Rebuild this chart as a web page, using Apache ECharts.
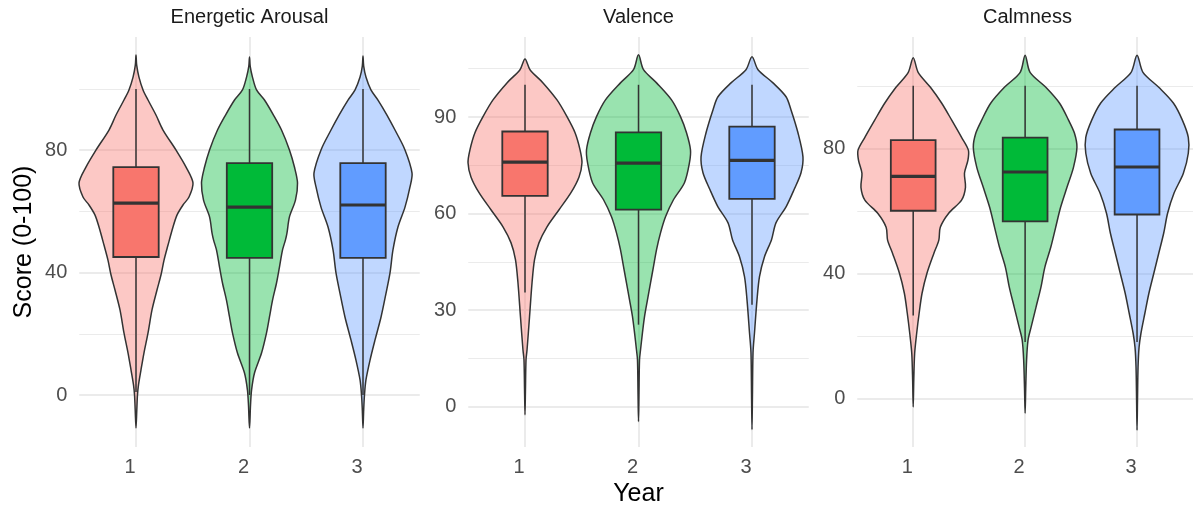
<!DOCTYPE html>
<html><head><meta charset="utf-8">
<script src="https://cdn.jsdelivr.net/npm/echarts@6/dist/echarts.min.js"></script>
<style>html,body{margin:0;padding:0;background:#fff}#c{width:1193px;height:511px}</style>
</head><body><div id="c"></div>
<script>
const years = ['1', '2', '3'];
const facets = ['Energetic Arousal', 'Valence', 'Calmness'];
const yTitle = 'Score (0-100)';
const xTitle = 'Year';
const boxFills = ['#F8766D', '#00BA38', '#619CFF'];
const violinFills = ['rgba(248,118,109,0.4)', 'rgba(0,186,56,0.4)', 'rgba(97,156,255,0.4)'];
const yRanges = [[-17, 117], [-12.5, 114.85], [-15.6, 115.6]];
const majorTicks = [[0, 40, 80], [0, 30, 60, 90], [0, 40, 80]];
const minorTicks = [[20, 60, 100], [15, 45, 75, 105], [20, 60, 100]];

// violin profiles: [score, half width as % of category spacing]
const arousal1 = [[111.1,0],[107.8,0.6],[103.9,2.6],[99.7,6.2],[96.4,10.6],[91.5,17.6],[86.6,23.8],[80.1,35.2],[74.5,44.1],[69.3,50.2],[64.7,46.7],[62.1,41.4],[58.8,36.1],[54.9,32.6],[49.0,28.2],[44.1,24.7],[39.2,22.0],[34.3,18.5],[27.8,14.1],[20.3,10.6],[13.7,7.0],[8.2,4.4],[3.3,2.2],[0,1.3],[-4.9,0.7],[-10.8,0]];
const arousal2 = [[110.5,0],[107.5,0.6],[103.9,2.6],[99.7,6.2],[96.4,13.2],[91.5,21.1],[86.6,28.2],[80.1,35.2],[74.5,39.6],[69.3,42.3],[63.7,40.5],[58.2,35.2],[52.9,33.0],[50.7,31.7],[47.4,29.1],[41.8,26.4],[36.6,23.8],[31.0,20.3],[25.5,17.6],[20.3,15.0],[13.7,10.6],[7.2,4.4],[1.6,1.8],[-3.3,0.9],[-10.8,0]];
const arousal3 = [[110.8,0],[107.5,0.6],[103.9,2.6],[99.7,7.0],[96.4,13.2],[91.5,21.1],[86.6,28.2],[80.1,37.0],[72.5,43.2],[68.0,41.4],[61.4,37.0],[54.9,30.8],[47.4,26.4],[39.9,23.8],[33.3,20.3],[25.5,15.9],[18.0,10.6],[11.4,6.2],[4.9,2.6],[0,1.3],[-4.9,0.6],[-10.8,0]];
const valence1 = [[108.0,0],[104.7,4.4],[100.6,15.9],[95.3,28.2],[90.1,37.0],[85.1,44.1],[79.8,48.5],[75.8,50.2],[71.4,47.6],[66.5,40.5],[61.2,30.0],[55.9,19.4],[50.9,12.3],[45.7,8.4],[38.5,6.2],[28.0,4.0],[17.7,1.8],[14.6,0.9],[5.3,0.4],[-2.5,0]];
const valence2 = [[109.3,0],[104.7,4.4],[100.6,15.9],[95.3,29.1],[90.1,37.0],[85.1,42.3],[79.8,45.8],[75.8,44.9],[69.6,40.5],[64.3,30.8],[59.0,23.8],[54.0,19.4],[48.8,15.9],[43.5,13.2],[38.5,10.6],[33.2,7.9],[28.0,5.3],[23.0,3.5],[17.7,1.8],[14.6,0.9],[3.7,0.4],[-4.6,0]];
const valence3 = [[108.7,0],[104.7,5.3],[100.6,18.5],[96.3,30.0],[92.2,34.4],[85.1,40.5],[77.6,44.9],[72.7,43.2],[67.4,37.0],[62.1,30.0],[57.1,21.1],[51.9,17.2],[46.6,11.0],[40.4,6.6],[33.2,4.4],[23.0,2.2],[16.8,0.9],[3.7,0.4],[-7.1,0]];
const calm1 = [[109.0,0],[104.3,4.4],[99.5,15.4],[94.4,25.5],[89.0,34.4],[83.5,43.2],[79.4,49.3],[76.2,48.9],[72.0,45.8],[67.5,46.7],[63.4,43.2],[59.2,31.7],[54.7,24.2],[50.6,22.9],[46.4,18.5],[40.0,12.3],[33.6,7.9],[27.2,5.3],[20.8,3.1],[14.4,1.3],[5.8,0.5],[-2.8,0]];
const calm2 = [[109.8,0],[104.3,4.4],[99.5,18.5],[94.4,30.8],[89.0,38.8],[84.8,44.1],[80.3,46.3],[73.9,43.2],[67.5,37.4],[61.1,31.7],[54.7,27.3],[48.3,22.9],[41.9,17.6],[35.5,14.1],[29.1,9.7],[22.7,5.3],[18.6,2.6],[12.2,1.3],[2.6,0.5],[-4.8,0]];
const calm3 = [[109.8,0],[104.3,5.3],[99.5,19.4],[94.4,32.6],[89.0,40.5],[83.5,45.8],[78.4,45.8],[72.0,41.4],[65.6,33.0],[59.2,27.3],[52.8,23.8],[46.4,19.4],[40.0,15.0],[33.6,10.6],[27.2,7.0],[20.8,3.5],[16.3,1.8],[9.9,0.9],[-0.6,0.4],[-10.2,0]];

// boxes: [lower whisker, Q1, median, Q3, upper whisker]
const arousalBox = [[1, 45.1, 62.7, 74.5, 100], [0, 44.8, 61.4, 75.8, 100], [0, 44.8, 62.1, 75.8, 100]];
const valenceBox = [[35.5, 65.5, 76.0, 85.5, 100], [25.5, 61.2, 75.7, 85.2, 100], [31.7, 64.6, 76.5, 87.0, 100]];
const calmBox = [[26.5, 60.0, 71.0, 82.6, 100], [18.0, 56.6, 72.4, 83.4, 100], [18.0, 58.8, 74.0, 86.0, 100]];

const violins = [[arousal1, arousal2, arousal3], [valence1, valence2, valence3], [calm1, calm2, calm3]];
const boxes = [arousalBox, valenceBox, calmBox];

const FONT = '"Liberation Sans", Arial, sans-serif';
const gridLeft = [79.25, 468.25, 857.25];
const gridW = 340.5, gridTop = 37, gridH = 410;
const BOX_HALF = 0.2;
const LINE = '#333333';
const GRIDC = '#EBEBEB';

function violinRender(profiles) {
  return function (params, api) {
    const i = params.dataIndex;
    const x = api.value(0);
    const unit = api.size([1, 0])[0];
    const prof = profiles[i];
    const right = [], left = [];
    prof.forEach(function (d) {
      const p = api.coord([x, d[0]]);
      const dx = d[1] / 100 * unit;
      right.push([p[0] + dx, p[1]]);
      if (d[1] > 0) left.push([p[0] - dx, p[1]]);
    });
    const pts = right.concat(left.reverse());
    return {
      type: 'polygon',
      shape: { points: pts, smooth: 0.3 },
      style: { fill: violinFills[i], stroke: LINE, lineWidth: 1.5 }
    };
  };
}

function boxRender(stats) {
  return function (params, api) {
    const i = params.dataIndex;
    const x = api.value(0);
    const s = stats[i];
    const hw = BOX_HALF * api.size([1, 0])[0];
    const pLo = api.coord([x, s[0]]), pQ1 = api.coord([x, s[1]]), pMed = api.coord([x, s[2]]),
          pQ3 = api.coord([x, s[3]]), pHi = api.coord([x, s[4]]);
    return {
      type: 'group',
      children: [
        { type: 'line', shape: { x1: pHi[0], y1: pHi[1], x2: pQ3[0], y2: pQ3[1] }, style: { stroke: LINE, lineWidth: 1.5 } },
        { type: 'line', shape: { x1: pQ1[0], y1: pQ1[1], x2: pLo[0], y2: pLo[1] }, style: { stroke: LINE, lineWidth: 1.5 } },
        { type: 'rect', shape: { x: pQ3[0] - hw, y: pQ3[1], width: 2 * hw, height: pQ1[1] - pQ3[1] }, style: { fill: boxFills[i], stroke: LINE, lineWidth: 1.8 } },
        { type: 'line', shape: { x1: pMed[0] - hw, y1: pMed[1], x2: pMed[0] + hw, y2: pMed[1] }, style: { stroke: LINE, lineWidth: 3.2 } }
      ]
    };
  };
}

const grids = [], xAxes = [], yAxes = [], series = [], graphics = [];
const xVals = years.map(function (_, i) { return i + 1; });
for (let g = 0; g < 3; g++) {
  grids.push({ left: gridLeft[g], top: gridTop, width: gridW, height: gridH, containLabel: false });
  xAxes.push({
    type: 'value', gridIndex: g, min: 0.5, max: 3.5,
    axisLine: { show: false },
    axisTick: { show: false, customValues: xVals },
    axisLabel: { customValues: xVals, formatter: function (v) { return years[Math.round(v) - 1]; },
                 fontSize: 20, fontFamily: FONT, color: '#4D4D4D', margin: 10, padding: [0, 12, 0, 0] },
    splitLine: { show: true, lineStyle: { color: GRIDC, width: 2 } }
  });
  yAxes.push({
    type: 'value', gridIndex: g, min: yRanges[g][0], max: yRanges[g][1], position: 'left',
    axisLine: { show: false },
    axisTick: { show: false, customValues: majorTicks[g] },
    axisLabel: { customValues: majorTicks[g], fontSize: 20, fontFamily: FONT, color: '#4D4D4D', margin: 12 },
    splitLine: { show: true, lineStyle: { color: GRIDC, width: 2 } }
  });
  yAxes.push({
    type: 'value', gridIndex: g, min: yRanges[g][0], max: yRanges[g][1], position: 'right',
    axisLine: { show: false },
    axisTick: { show: false, customValues: minorTicks[g] },
    axisLabel: { show: false },
    splitLine: { show: true, lineStyle: { color: GRIDC, width: 1 } }
  });
  const data = xVals.map(function (x, i) { return [x, boxes[g][i][2]]; });
  series.push({
    type: 'custom', xAxisIndex: g, yAxisIndex: 2 * g, z: 2, silent: true,
    renderItem: violinRender(violins[g]), data: data, encode: { x: 0, y: 1 }
  });
  series.push({
    type: 'custom', xAxisIndex: g, yAxisIndex: 2 * g, z: 3, silent: true,
    renderItem: boxRender(boxes[g]), data: data, encode: { x: 0, y: 1 }
  });
  graphics.push({
    type: 'text', x: gridLeft[g] + gridW / 2, y: 17,
    style: { text: facets[g], fontSize: 20, fontFamily: FONT, fill: '#1A1A1A', align: 'center', verticalAlign: 'middle' }
  });
}
graphics.push({
  type: 'text', x: gridLeft[1] + gridW / 2, y: 494,
  style: { text: xTitle, fontSize: 25, fontFamily: FONT, fill: '#000', align: 'center', verticalAlign: 'middle' }
});
graphics.push({
  type: 'text', x: 24, y: 242, rotation: Math.PI / 2,
  style: { text: yTitle, fontSize: 25, fontFamily: FONT, fill: '#000', align: 'center', verticalAlign: 'middle' }
});

const chart = echarts.init(document.getElementById('c'), null, { renderer: 'canvas' });
chart.setOption({
  animation: false,
  backgroundColor: '#fff',
  grid: grids, xAxis: xAxes, yAxis: yAxes, series: series,
  graphic: graphics
});
</script></body></html>
